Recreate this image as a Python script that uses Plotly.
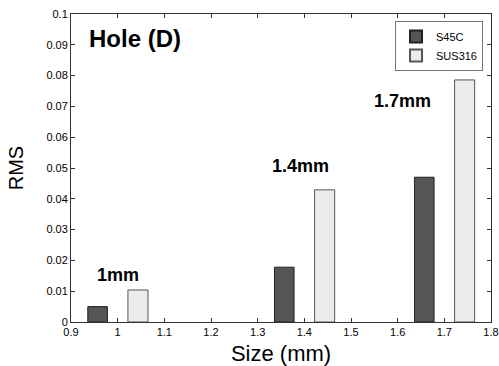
import plotly.graph_objects as go

sizes = [1.0, 1.4, 1.7]
s45c = [0.005, 0.0178, 0.0470]
sus316 = [0.0104, 0.0429, 0.0786]
size_labels = ["1mm", "1.4mm", "1.7mm"]
label_x = [1.0, 1.391, 1.611]
label_y = [0.0154, 0.0506, 0.0717]
x_ticks = [0.9, 1.0, 1.1, 1.2, 1.3, 1.4, 1.5, 1.6, 1.7, 1.8]
x_tick_text = ["0.9", "1", "1.1", "1.2", "1.3", "1.4", "1.5", "1.6", "1.7", "1.8"]
y_ticks = [0, 0.01, 0.02, 0.03, 0.04, 0.05, 0.06, 0.07, 0.08, 0.09, 0.1]
y_tick_text = ["0", "0.01", "0.02", "0.03", "0.04", "0.05", "0.06", "0.07", "0.08", "0.09", "0.1"]

FONT = "Liberation Sans, Arial, sans-serif"

fig = go.Figure()
fig.add_trace(go.Bar(
    x=sizes, y=s45c, name="S45C", width=0.042, offset=-0.064,
    marker=dict(color="#555555", line=dict(color="#222222", width=1)),
))
fig.add_trace(go.Bar(
    x=sizes, y=sus316, name="SUS316", width=0.043, offset=0.022,
    marker=dict(color="#ececec", line=dict(color="#555555", width=1)),
))

for t, xx, yy in zip(size_labels, label_x, label_y):
    fig.add_annotation(x=xx, y=yy, text="<b>%s</b>" % t, showarrow=False,
                       font=dict(family=FONT, size=18, color="black"),
                       xanchor="center", yanchor="middle")

fig.add_annotation(x=0.934, y=0.0921, text="<b>Hole (D)</b>", showarrow=False,
                   font=dict(family=FONT, size=24, color="black"),
                   xanchor="left", yanchor="middle")

axis_common = dict(
    showline=True, linecolor="#333333", linewidth=1, mirror="ticks",
    ticks="inside", ticklen=4, tickcolor="#333333", showgrid=False, zeroline=False,
    tickfont=dict(family=FONT, size=11, color="black"), automargin=False,
)

fig.update_xaxes(range=[0.9, 1.8], tickvals=x_ticks, ticktext=x_tick_text,
                 title=dict(text="Size (mm)", font=dict(family=FONT, size=22, color="black"), standoff=8),
                 **axis_common)
fig.update_yaxes(range=[0, 0.1], tickvals=y_ticks, ticktext=y_tick_text,
                 title=dict(text="RMS", font=dict(family=FONT, size=20, color="black"), standoff=17),
                 **axis_common)

fig.update_layout(
    width=499, height=366,
    margin=dict(l=71, r=8, t=14, b=44),
    plot_bgcolor="white", paper_bgcolor="white",
    barmode="overlay",
    showlegend=True,
    legend=dict(x=0.981, y=0.977, xanchor="right", yanchor="top",
                bordercolor="#777777", borderwidth=1, bgcolor="white",
                font=dict(family=FONT, size=11, color="black"),
                tracegroupgap=0, itemsizing="constant"),
    font=dict(family=FONT),
)

fig.write_html("out.html", config={"displayModeBar": False},
               post_script="document.body.style.margin='0';document.body.style.overflow='hidden';")
